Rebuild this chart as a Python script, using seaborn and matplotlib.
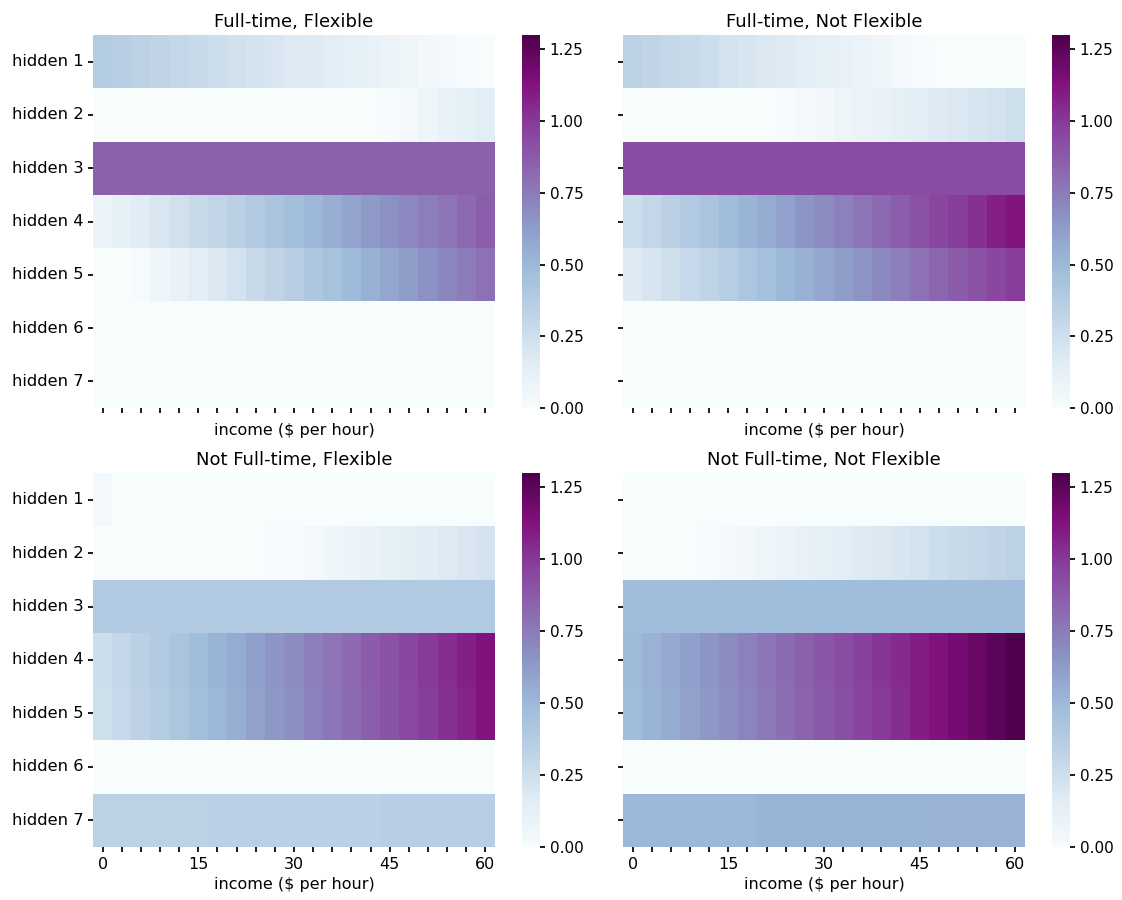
import numpy as np
import pandas as pd
import matplotlib
matplotlib.use("Agg")
import matplotlib.pyplot as plt
import seaborn as sns

income = [0, 3, 6, 9, 12, 15, 18, 21, 24, 27, 30, 33, 36, 39, 42, 45, 48, 51, 54, 57, 60]
hidden_units = ["hidden 1", "hidden 2", "hidden 3", "hidden 4", "hidden 5", "hidden 6", "hidden 7"]
titles = ["Full-time, Flexible", "Full-time, Not Flexible",
          "Not Full-time, Flexible", "Not Full-time, Not Flexible"]

ZERO = [0.0] * 21

# Full-time, Flexible
ftf_h1 = [0.38, 0.36, 0.34, 0.32, 0.30, 0.28, 0.26, 0.24, 0.22, 0.20, 0.18, 0.17, 0.15, 0.13, 0.11, 0.09, 0.07, 0.05, 0.03, 0.01, 0.0]
ftf_h2 = [0, 0, 0, 0, 0, 0, 0, 0, 0, 0, 0, 0, 0, 0, 0, 0.01, 0.04, 0.07, 0.10, 0.12, 0.15]
ftf_h3 = [0.85, 0.85, 0.85, 0.85, 0.85, 0.85, 0.85, 0.85, 0.85, 0.85, 0.85, 0.85, 0.85, 0.85, 0.85, 0.85, 0.85, 0.85, 0.85, 0.85, 0.85]
ftf_h4 = [0.08, 0.12, 0.16, 0.20, 0.24, 0.28, 0.31, 0.35, 0.39, 0.43, 0.47, 0.51, 0.55, 0.59, 0.63, 0.67, 0.70, 0.74, 0.78, 0.82, 0.86]
ftf_h5 = [0, 0, 0.02, 0.06, 0.10, 0.15, 0.19, 0.23, 0.28, 0.32, 0.36, 0.41, 0.45, 0.49, 0.54, 0.58, 0.62, 0.67, 0.71, 0.75, 0.79]
ftf_h6 = ZERO
ftf_h7 = ZERO

# Full-time, Not Flexible
ftn_h1 = [0.34, 0.32, 0.30, 0.28, 0.26, 0.23, 0.21, 0.19, 0.17, 0.15, 0.13, 0.11, 0.09, 0.06, 0.04, 0.02, 0.0, 0, 0, 0, 0]
ftn_h2 = [0, 0, 0, 0, 0, 0, 0, 0, 0.01, 0.03, 0.05, 0.07, 0.09, 0.11, 0.13, 0.15, 0.17, 0.19, 0.21, 0.23, 0.25]
ftn_h3 = [0.93, 0.93, 0.93, 0.93, 0.93, 0.93, 0.93, 0.93, 0.93, 0.93, 0.93, 0.93, 0.93, 0.93, 0.93, 0.93, 0.93, 0.93, 0.93, 0.93, 0.93]
ftn_h4 = [0.26, 0.30, 0.35, 0.39, 0.43, 0.48, 0.52, 0.56, 0.60, 0.65, 0.69, 0.73, 0.78, 0.82, 0.86, 0.91, 0.95, 0.99, 1.03, 1.08, 1.12]
ftn_h5 = [0.17, 0.21, 0.25, 0.29, 0.33, 0.37, 0.42, 0.46, 0.50, 0.54, 0.58, 0.62, 0.66, 0.70, 0.74, 0.79, 0.83, 0.87, 0.91, 0.95, 0.99]
ftn_h6 = ZERO
ftn_h7 = ZERO

# Not Full-time, Flexible
nff_h1 = [0.04, 0, 0, 0, 0, 0, 0, 0, 0, 0, 0, 0, 0, 0, 0, 0, 0, 0, 0, 0, 0]
nff_h2 = [0, 0, 0, 0, 0, 0, 0, 0, 0, 0.01, 0.02, 0.04, 0.06, 0.08, 0.10, 0.12, 0.14, 0.16, 0.18, 0.20, 0.22]
nff_h3 = [0.39, 0.39, 0.39, 0.39, 0.39, 0.39, 0.39, 0.39, 0.39, 0.39, 0.39, 0.39, 0.39, 0.39, 0.39, 0.39, 0.39, 0.39, 0.39, 0.39, 0.39]
nff_h4 = [0.26, 0.30, 0.35, 0.39, 0.43, 0.48, 0.52, 0.56, 0.61, 0.65, 0.69, 0.74, 0.78, 0.82, 0.87, 0.91, 0.95, 1.00, 1.04, 1.08, 1.13]
nff_h5 = [0.25, 0.29, 0.34, 0.38, 0.42, 0.47, 0.51, 0.55, 0.60, 0.64, 0.68, 0.73, 0.77, 0.81, 0.86, 0.90, 0.94, 0.99, 1.03, 1.07, 1.12]
nff_h6 = ZERO
nff_h7 = [0.34, 0.34, 0.34, 0.34, 0.34, 0.34, 0.35, 0.35, 0.35, 0.35, 0.35, 0.35, 0.35, 0.35, 0.35, 0.36, 0.36, 0.36, 0.36, 0.36, 0.36]

# Not Full-time, Not Flexible
nfn_h1 = ZERO
nfn_h2 = [0, 0, 0, 0, 0.01, 0.03, 0.05, 0.07, 0.09, 0.11, 0.13, 0.15, 0.17, 0.19, 0.21, 0.23, 0.26, 0.28, 0.30, 0.32, 0.34]
nfn_h3 = [0.48, 0.48, 0.48, 0.48, 0.48, 0.48, 0.48, 0.48, 0.48, 0.48, 0.48, 0.48, 0.48, 0.48, 0.48, 0.48, 0.48, 0.48, 0.48, 0.48, 0.48]
nfn_h4 = [0.49, 0.53, 0.57, 0.61, 0.65, 0.69, 0.73, 0.77, 0.81, 0.85, 0.89, 0.93, 0.97, 1.01, 1.05, 1.09, 1.13, 1.17, 1.21, 1.25, 1.29]
nfn_h5 = [0.48, 0.52, 0.56, 0.60, 0.64, 0.68, 0.72, 0.76, 0.80, 0.84, 0.88, 0.92, 0.96, 1.00, 1.04, 1.09, 1.13, 1.17, 1.21, 1.25, 1.29]
nfn_h6 = ZERO
nfn_h7 = [0.51, 0.51, 0.51, 0.51, 0.51, 0.51, 0.51, 0.52, 0.52, 0.52, 0.52, 0.52, 0.52, 0.52, 0.52, 0.52, 0.53, 0.53, 0.53, 0.53, 0.53]

panels = [
    [ftf_h1, ftf_h2, ftf_h3, ftf_h4, ftf_h5, ftf_h6, ftf_h7],
    [ftn_h1, ftn_h2, ftn_h3, ftn_h4, ftn_h5, ftn_h6, ftn_h7],
    [nff_h1, nff_h2, nff_h3, nff_h4, nff_h5, nff_h6, nff_h7],
    [nfn_h1, nfn_h2, nfn_h3, nfn_h4, nfn_h5, nfn_h6, nfn_h7],
]

sns.set_theme(style="ticks")
plt.rcParams["font.family"] = ["DejaVu Sans"]
plt.rcParams["font.size"] = 11.5
plt.rcParams["axes.titlesize"] = 13
plt.rcParams["axes.labelsize"] = 11.5
plt.rcParams["xtick.labelsize"] = 11.5
plt.rcParams["ytick.labelsize"] = 11.8
plt.rcParams["text.color"] = "black"
plt.rcParams["axes.labelcolor"] = "black"
plt.rcParams["xtick.color"] = "black"
plt.rcParams["ytick.color"] = "black"

fig = plt.figure(figsize=(11.22, 9.0), dpi=100)

W, H = 1122, 900
lefts = [93, 623]
cb_lefts = [522, 1052]
tops = [35, 473]
bottoms = [408, 847]
hm_w = 402
cb_w = 18

for k in range(4):
    r, c = divmod(k, 2)
    ax = fig.add_axes([lefts[c] / W, 1 - bottoms[r] / H, hm_w / W, (bottoms[r] - tops[r]) / H])
    cax = fig.add_axes([cb_lefts[c] / W, 1 - bottoms[r] / H, cb_w / W, (bottoms[r] - tops[r]) / H])
    df = pd.DataFrame(panels[k], index=hidden_units, columns=income)
    sns.heatmap(df, ax=ax, cmap="BuPu", vmin=0, vmax=1.3, cbar_ax=cax)
    cax.set_yticks([0, 0.25, 0.5, 0.75, 1.0, 1.25])
    cax.set_yticklabels(["0.00", "0.25", "0.50", "0.75", "1.00", "1.25"])
    cax.tick_params(labelsize=11, length=3.5)
    ax.set_title(titles[k])
    ax.set_xticks(np.arange(len(income)) + 0.5)
    if r == 1:
        ax.set_xticklabels([str(v) if i % 5 == 0 else "" for i, v in enumerate(income)], rotation=0)
    else:
        ax.set_xticklabels([""] * len(income))
    ax.set_yticks(np.arange(len(hidden_units)) + 0.5)
    if c == 0:
        ax.set_yticklabels(hidden_units, rotation=0)
    else:
        ax.set_yticklabels([""] * len(hidden_units))
    ax.set_xlabel("income (\\$ per hour)")
    ax.set_ylabel("")
    ax.tick_params(length=3.5)

fig.savefig("out.png", dpi=100)
